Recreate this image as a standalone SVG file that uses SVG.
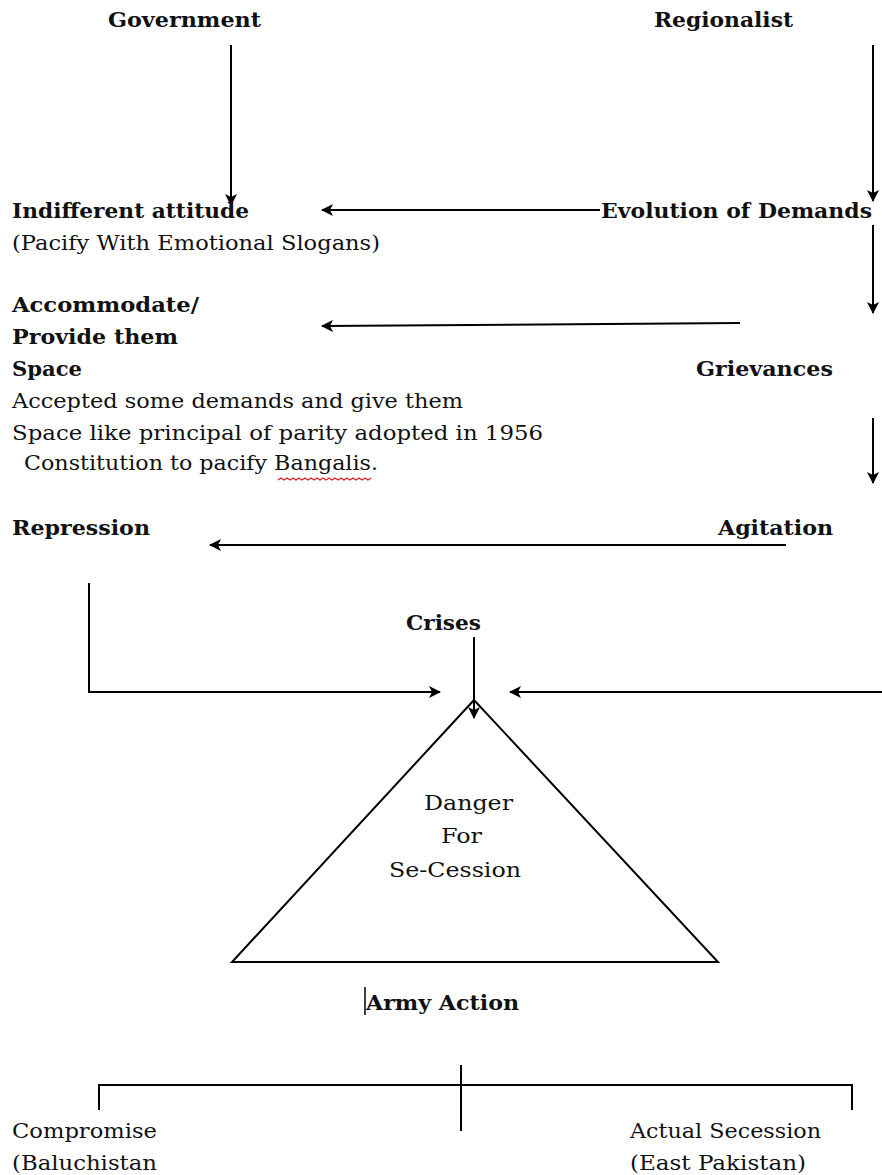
<svg xmlns="http://www.w3.org/2000/svg" width="882" height="1175" viewBox="0 0 882 1175">
<defs>
<marker id="ah" markerWidth="12" markerHeight="12" refX="11" refY="6" orient="auto" markerUnits="userSpaceOnUse">
<path d="M0,0 L12,6 L0,12 L3,6 Z" fill="#000"/>
</marker>
<style>
text{font-family:"DejaVu Serif","Liberation Serif",serif;font-size:20px;fill:#111}
.b{font-weight:bold}
.ln{stroke:#000;stroke-width:2;fill:none}
.ar{stroke:#000;stroke-width:2;fill:none;marker-end:url(#ah)}
</style>
</defs>
<rect width="882" height="1175" fill="#fff"/>
<g id="connectors">
<path class="ar" d="M231,45 V205"/>
<path class="ar" d="M873,45 V201"/>
<path class="ar" d="M600,210 H322"/>
<path class="ar" d="M873,225 V313"/>
<path class="ar" d="M740,323 L322,326"/>
<path class="ar" d="M873,418 V483"/>
<path class="ar" d="M786,545 H210"/>
<path class="ar" d="M89,583 V692 H440"/>
<path class="ar" d="M882,692 H510"/>
<path class="ar" d="M474,637 V718"/>
<path class="ln" d="M99,1110 V1085 H852 V1110"/>
<path class="ln" d="M461,1065 V1131"/>
</g>
<g id="government"><text class="b" x="108" y="27" textLength="153" lengthAdjust="spacingAndGlyphs">Government</text></g>
<g id="regionalist"><text class="b" x="654" y="27" textLength="139" lengthAdjust="spacingAndGlyphs">Regionalist</text></g>
<g id="indifferent">
<text class="b" x="12" y="218" textLength="237" lengthAdjust="spacingAndGlyphs">Indifferent attitude</text>
<text x="12" y="250" textLength="368" lengthAdjust="spacingAndGlyphs">(Pacify With Emotional Slogans)</text>
</g>
<g id="evolution"><text class="b" x="601" y="218" textLength="271" lengthAdjust="spacingAndGlyphs">Evolution of Demands</text></g>
<g id="accommodate">
<text class="b" x="12" y="312" textLength="187" lengthAdjust="spacingAndGlyphs">Accommodate/</text>
<text class="b" x="12" y="344" textLength="166" lengthAdjust="spacingAndGlyphs">Provide them</text>
<text class="b" x="12" y="376" textLength="70" lengthAdjust="spacingAndGlyphs">Space</text>
<text x="12" y="408" textLength="451" lengthAdjust="spacingAndGlyphs">Accepted some demands and give them</text>
<text x="12" y="440" textLength="531" lengthAdjust="spacingAndGlyphs">Space like principal of parity adopted in 1956</text>
<text x="24" y="470" textLength="354" lengthAdjust="spacingAndGlyphs">Constitution to pacify Bangalis.</text>
<path d="M278,480 l3,-2 l3,2 l3,-2 l3,2 l3,-2 l3,2 l3,-2 l3,2 l3,-2 l3,2 l3,-2 l3,2 l3,-2 l3,2 l3,-2 l3,2 l3,-2 l3,2 l3,-2 l3,2 l3,-2 l3,2 l3,-2 l3,2 l3,-2 l3,2 l3,-2 l3,2 l3,-2 l3,2 l3,-2" stroke="#e02020" stroke-width="1.2" fill="none"/>
</g>
<g id="grievances"><text class="b" x="696" y="376" textLength="137" lengthAdjust="spacingAndGlyphs">Grievances</text></g>
<g id="repression"><text class="b" x="12" y="535" textLength="138" lengthAdjust="spacingAndGlyphs">Repression</text></g>
<g id="agitation"><text class="b" x="718" y="535" textLength="115" lengthAdjust="spacingAndGlyphs">Agitation</text></g>
<g id="crises"><text class="b" x="406" y="630" textLength="75" lengthAdjust="spacingAndGlyphs">Crises</text></g>
<g id="danger">
<path class="ln" d="M474,700 L232,962 H718 Z" stroke-width="1.5"/>
<text x="424" y="810" textLength="89" lengthAdjust="spacingAndGlyphs">Danger</text>
<text x="441" y="843" textLength="41" lengthAdjust="spacingAndGlyphs">For</text>
<text x="389" y="877" textLength="132" lengthAdjust="spacingAndGlyphs">Se-Cession</text>
</g>
<g id="army">
<path d="M365,987 V1015" stroke="#000" stroke-width="1.5"/>
<text class="b" x="366" y="1010" textLength="153" lengthAdjust="spacingAndGlyphs">Army Action</text>
</g>
<g id="compromise">
<text x="12" y="1138" textLength="145" lengthAdjust="spacingAndGlyphs">Compromise</text>
<text x="12" y="1170" textLength="145" lengthAdjust="spacingAndGlyphs">(Baluchistan</text>
</g>
<g id="secession">
<text x="630" y="1138" textLength="191" lengthAdjust="spacingAndGlyphs">Actual Secession</text>
<text x="630" y="1170" textLength="176" lengthAdjust="spacingAndGlyphs">(East Pakistan)</text>
</g>
</svg>
